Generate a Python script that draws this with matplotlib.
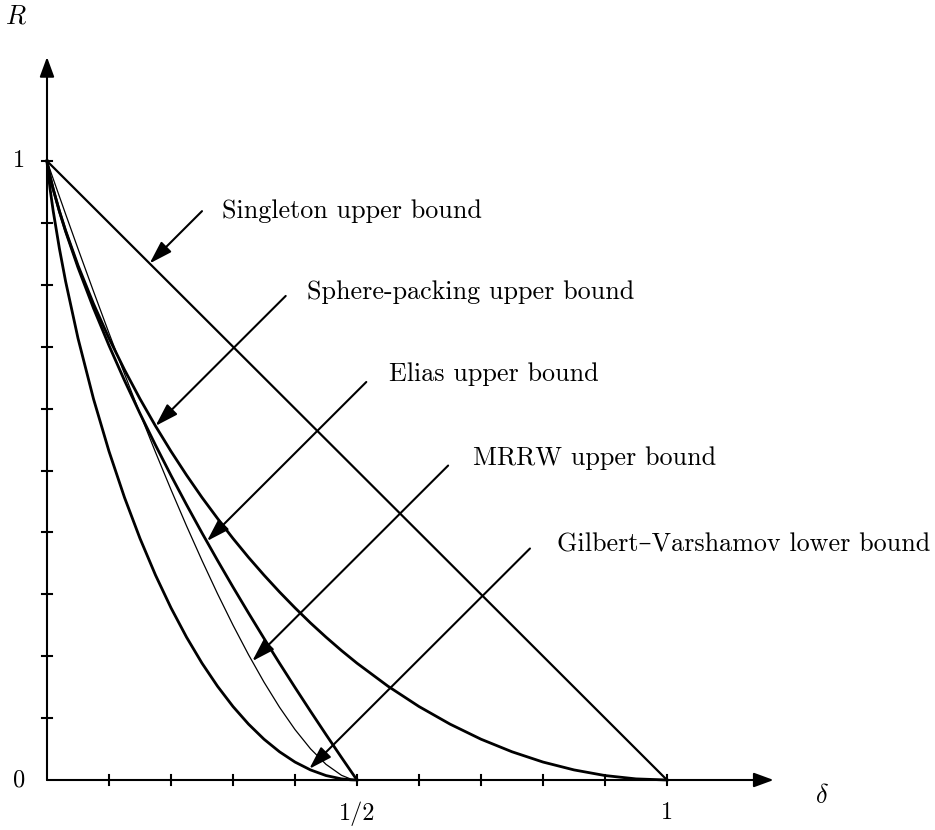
import matplotlib
matplotlib.use("Agg")
import matplotlib.pyplot as plt

# values (delta, R)
delta_half = [0, 0.001, 0.005, 0.01, 0.02, 0.03, 0.05, 0.075, 0.1, 0.125, 0.15, 0.175,
              0.2, 0.225, 0.25, 0.275, 0.3, 0.325, 0.35, 0.375, 0.4, 0.425, 0.45,
              0.475, 0.49, 0.5]
gv_rate = [1, 0.9886, 0.9546, 0.9192, 0.8586, 0.8056, 0.7136, 0.6157, 0.5310, 0.4564,
           0.3902, 0.3310, 0.2781, 0.2308, 0.1887, 0.1515, 0.1187, 0.0903, 0.0659,
           0.0456, 0.0290, 0.0163, 0.0072, 0.0018, 0.0003, 0]
elias_rate = [1, 0.9938, 0.9747, 0.9544, 0.9185, 0.8862, 0.8279, 0.7622, 0.7019, 0.6454,
              0.5920, 0.5410, 0.4920, 0.4448, 0.3991, 0.3548, 0.3117, 0.2698, 0.2288,
              0.1887, 0.1495, 0.1111, 0.0734, 0.0364, 0.0145, 0]
mrrw_rate = [1, 0.9971, 0.9856, 0.9712, 0.9427, 0.9143, 0.8583, 0.7894, 0.7219, 0.6561,
             0.5919, 0.5295, 0.4690, 0.4106, 0.3546, 0.3010, 0.2502, 0.2025, 0.1581,
             0.1176, 0.0815, 0.0504, 0.0253, 0.0076, 0.0015, 0]

delta_full = [0, 0.001, 0.005, 0.01, 0.02, 0.03, 0.05, 0.075, 0.1, 0.125, 0.15, 0.175,
              0.2, 0.225, 0.25, 0.275, 0.3, 0.325, 0.35, 0.375, 0.4, 0.425, 0.45,
              0.475, 0.5, 0.55, 0.6, 0.65, 0.7, 0.75, 0.8, 0.85, 0.9, 0.95, 1.0]
sp_rate = [1, 0.9938, 0.9748, 0.9546, 0.9192, 0.8876, 0.8313, 0.7693, 0.7136, 0.6627,
           0.6157, 0.5719, 0.5310, 0.4926, 0.4564, 0.4226, 0.3902, 0.3597, 0.3310,
           0.3038, 0.2781, 0.2537, 0.2308, 0.2091, 0.1887, 0.1515, 0.1187, 0.0903,
           0.0659, 0.0456, 0.0290, 0.0163, 0.0072, 0.0018, 0]

singleton_delta = [0, 1]
singleton_rate = [1, 0]

labels = ["Singleton upper bound", "Sphere-packing upper bound", "Elias upper bound",
          "MRRW upper bound", "Gilbert\u2013Varshamov lower bound"]
label_pos = [(0.282, 0.919), (0.419, 0.788), (0.552, 0.656), (0.687, 0.520), (0.822, 0.380)]
arrow_from = [(0.250, 0.919), (0.385, 0.782), (0.515, 0.643), (0.647, 0.508), (0.779, 0.374)]
arrow_to = [(0.1655, 0.8345), (0.175, 0.572), (0.258, 0.386), (0.331, 0.192), (0.423, 0.018)]

xtick_pos = [0.1 * i for i in range(1, 11)]
ytick_pos = [0.1 * i for i in range(1, 11)]

plt.rcParams["mathtext.fontset"] = "cm"
serif = ["cmr10", "DejaVu Serif"]

fig = plt.figure(figsize=(9.35, 8.3), dpi=100)
ax = fig.add_axes([0, 0, 1, 1])
ax.set_xlim(-47 / 620, 888 / 620)
ax.set_ylim(-50 / 619, 780 / 619)
ax.axis("off")

# axes with arrow heads
ax.annotate("", xy=(1.172, 0), xytext=(0, 0),
            arrowprops=dict(arrowstyle="-|>,head_length=0.6,head_width=0.22",
                            mutation_scale=20, lw=1.5, color="k",
                            shrinkA=0, shrinkB=0))
ax.annotate("", xy=(0, 1.168), xytext=(0, 0),
            arrowprops=dict(arrowstyle="-|>,head_length=0.6,head_width=0.22",
                            mutation_scale=20, lw=1.5, color="k",
                            shrinkA=0, shrinkB=0))

for x in xtick_pos:
    ax.plot([x, x], [-0.008, 0.008], color="k", lw=1.5)
for y in ytick_pos:
    ax.plot([-0.008, 0.008], [y, y], color="k", lw=1.5)

ax.plot(singleton_delta, singleton_rate, color="k", lw=1.6)
ax.plot(delta_full, sp_rate, color="k", lw=2.0)
ax.plot(delta_half, elias_rate, color="k", lw=2.0)
ax.plot(delta_half, mrrw_rate, color="k", lw=0.9)
ax.plot(delta_half, gv_rate, color="k", lw=2.0)

for text, pos, p0, p1 in zip(labels, label_pos, arrow_from, arrow_to):
    ax.annotate("", xy=p1, xytext=p0,
                arrowprops=dict(arrowstyle="-|>,head_length=0.7,head_width=0.22",
                                mutation_scale=20, lw=1.5, color="k",
                                shrinkA=0, shrinkB=0))
    ax.text(pos[0], pos[1], text, family=serif, fontsize=18.8,
            ha="left", va="center")

ax.text(-0.045, 1.0, "1", family=serif, fontsize=17.5, ha="center", va="center")
ax.text(-0.045, 0.0, "0", family=serif, fontsize=17.5, ha="center", va="center")
ax.text(0.5, -0.055, "1/2", family=serif, fontsize=17.5, ha="center", va="center")
ax.text(1.0, -0.053, "1", family=serif, fontsize=17.5, ha="center", va="center")
ax.text(1.25, -0.026, r"$\delta$", fontsize=19, ha="center", va="center")
ax.text(-0.05, 1.234, r"$R$", fontsize=19, ha="center", va="center")

plt.savefig("out.png", dpi=100)
